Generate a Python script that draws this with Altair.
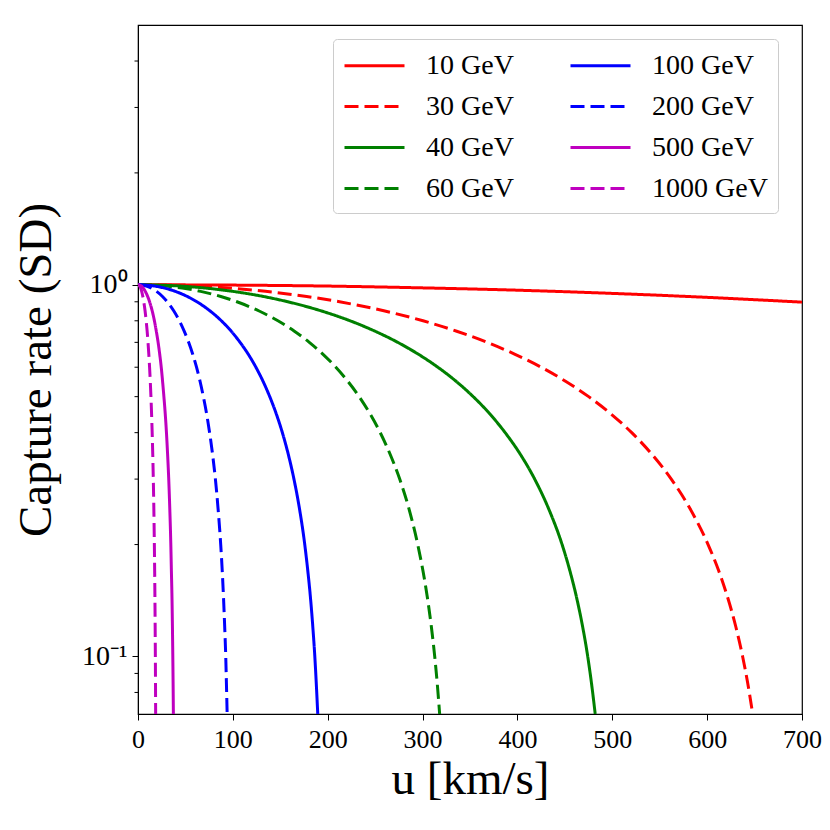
import altair as alt
import pandas as pd

# Capture-rate levels (y) at which each curve's u position was read
levels = [1.0, 0.995, 0.98, 0.96, 0.93, 0.9, 0.85, 0.8, 0.75, 0.7, 0.65, 0.6, 0.55,
          0.5, 0.45, 0.4, 0.35, 0.3, 0.25, 0.2, 0.17, 0.145, 0.12, 0.1, 0.085, 0.07]

u_30 = [0, 47.5, 95.1, 134.4, 177.8, 212.5, 260.2, 300.5, 336.0, 368.1, 397.5, 425.0, 450.7,
        475.1, 498.3, 520.5, 541.7, 562.2, 581.9, 601.0, 612.2, 621.3, 630.3, 637.4, 642.7, 648]
u_40 = [0, 35.3, 70.7, 100.0, 132.3, 158.0, 193.6, 223.6, 249.9, 273.8, 295.7, 316.1, 335.3,
        353.4, 370.7, 387.1, 403.0, 418.2, 432.8, 447.1, 455.3, 462.1, 468.8, 474.1, 478.0, 482]
u_60 = [0, 23.3, 46.7, 66.0, 87.3, 104.3, 127.7, 147.5, 164.9, 180.6, 195.1, 208.6, 221.2,
        233.2, 244.5, 255.4, 265.8, 275.9, 285.6, 294.9, 300.4, 304.9, 309.3, 312.8, 315.4, 318]
u_100 = [0, 13.9, 27.8, 39.3, 52.0, 62.1, 76.1, 87.9, 98.3, 107.6, 116.3, 124.3, 131.8,
         138.9, 145.7, 152.2, 158.4, 164.4, 170.2, 175.8, 179.0, 181.7, 184.3, 186.4, 187.9, 189.5]
u_200 = [0, 6.9, 13.8, 19.5, 25.8, 30.8, 37.8, 43.6, 48.7, 53.4, 57.7, 61.7, 65.4,
         68.9, 72.3, 75.5, 78.6, 81.6, 84.4, 87.2, 88.8, 90.1, 91.4, 92.5, 93.2, 94]
u_500 = [0, 2.7, 5.5, 7.7, 10.2, 12.2, 15.0, 17.3, 19.3, 21.2, 22.9, 24.5, 25.9,
         27.3, 28.7, 30.0, 31.2, 32.4, 33.5, 34.6, 35.2, 35.8, 36.3, 36.7, 37.0, 37.3]
u_1000 = [0, 1.36, 2.73, 3.86, 5.10, 6.10, 7.47, 8.63, 9.64, 10.56, 11.41, 12.20, 12.94,
          13.64, 14.30, 14.94, 15.55, 16.14, 16.70, 17.25, 17.57, 17.83, 18.09, 18.30, 18.45, 18.6]

# 10 GeV curve stays close to 1 across the whole range
u_10 = [0, 100, 200, 300, 400, 500, 600, 700]
c_10 = [1.0, 0.998, 0.992, 0.981, 0.967, 0.948, 0.925, 0.898]

labels = ["10 GeV", "30 GeV", "40 GeV", "60 GeV", "100 GeV", "200 GeV", "500 GeV", "1000 GeV"]
colors = ["#ff0000", "#ff0000", "#008000", "#008000", "#0000ff", "#0000ff", "#bf00bf", "#bf00bf"]
dashes = [[1, 0], [14, 6], [1, 0], [14, 6], [1, 0], [14, 6], [1, 0], [14, 6]]

x_ticks = [0, 100, 200, 300, 400, 500, 600, 700]
y_major = [0.1, 1.0]
y_minor = [0.08, 0.09, 0.2, 0.3, 0.4, 0.5, 0.6, 0.7, 0.8, 0.9, 2.0, 3.0, 4.0]

rows = []
for u, c in zip(u_10, c_10):
    rows.append({"u": u, "c": c, "mass": "10 GeV"})
for name, us in [("30 GeV", u_30), ("40 GeV", u_40), ("60 GeV", u_60),
                 ("100 GeV", u_100), ("200 GeV", u_200), ("500 GeV", u_500),
                 ("1000 GeV", u_1000)]:
    for u, c in zip(us, levels):
        rows.append({"u": u, "c": c, "mass": name})
df = pd.DataFrame(rows)

FONT = "Liberation Serif"

legend = alt.Legend(
    title=None, orient="none", legendX=195, legendY=14, columns=2,
    symbolType="M-1,0H3", symbolSize=900, symbolStrokeWidth=3,
    labelFont=FONT, labelFontSize=28, labelColor="black", labelOffset=50,
    strokeColor="#cccccc", fillColor="white", cornerRadius=4,
    padding=10, columnPadding=50, rowPadding=10,
)

xscale = alt.Scale(domain=[0, 700], nice=False)
yscale = alt.Scale(type="log", domain=[0.07, 5.0], nice=False)

y_axis = alt.Axis(values=y_major, grid=False, tickSize=6, tickColor="black",
                  domainColor="black", labelPadding=5, labelFlush=False,
                  labelExpr="datum.value >= 0.99 ? '10⁰' : '10⁻¹'",
                  labelFont=FONT, labelFontSize=28, labelColor="black",
                  title="Capture rate (SD)", titleFont=FONT, titleFontSize=47,
                  titleFontWeight="normal", titleColor="black", titleX=-78)

lines = alt.Chart(df).mark_line(strokeWidth=3, clip=True, interpolate="monotone").encode(
    x=alt.X("u:Q", scale=xscale,
            axis=alt.Axis(values=x_ticks, title="u [km/s]", grid=False, tickSize=6,
                          tickColor="black", domainColor="black", labelPadding=6,
                          labelFlush=False,
                          labelFont=FONT, labelFontSize=26, labelColor="black",
                          titleFont=FONT, titleFontSize=47, titleFontWeight="normal",
                          titleColor="black", titleY=42, titleBaseline="top")),
    y=alt.Y("c:Q", scale=yscale, axis=y_axis),
    color=alt.Color("mass:N", scale=alt.Scale(domain=labels, range=colors), legend=legend),
    strokeDash=alt.StrokeDash("mass:N", scale=alt.Scale(domain=labels, range=dashes), legend=legend),
)

minor = alt.Chart(pd.DataFrame({"v": y_minor})).mark_rule(color="black", strokeWidth=1).encode(
    y=alt.Y("v:Q", scale=yscale, axis=y_axis),
    x=alt.value(-3.5),
    x2=alt.value(0),
)

chart = alt.layer(lines, minor).properties(
    width=664, height=689,
    padding={"left": 130, "top": 17, "right": 20, "bottom": 90},
    autosize=alt.AutoSizeParams(type="none"),
).configure_view(stroke="black", strokeWidth=1.2)

chart.save("out.html", embed_options={"renderer": "svg", "actions": False})
